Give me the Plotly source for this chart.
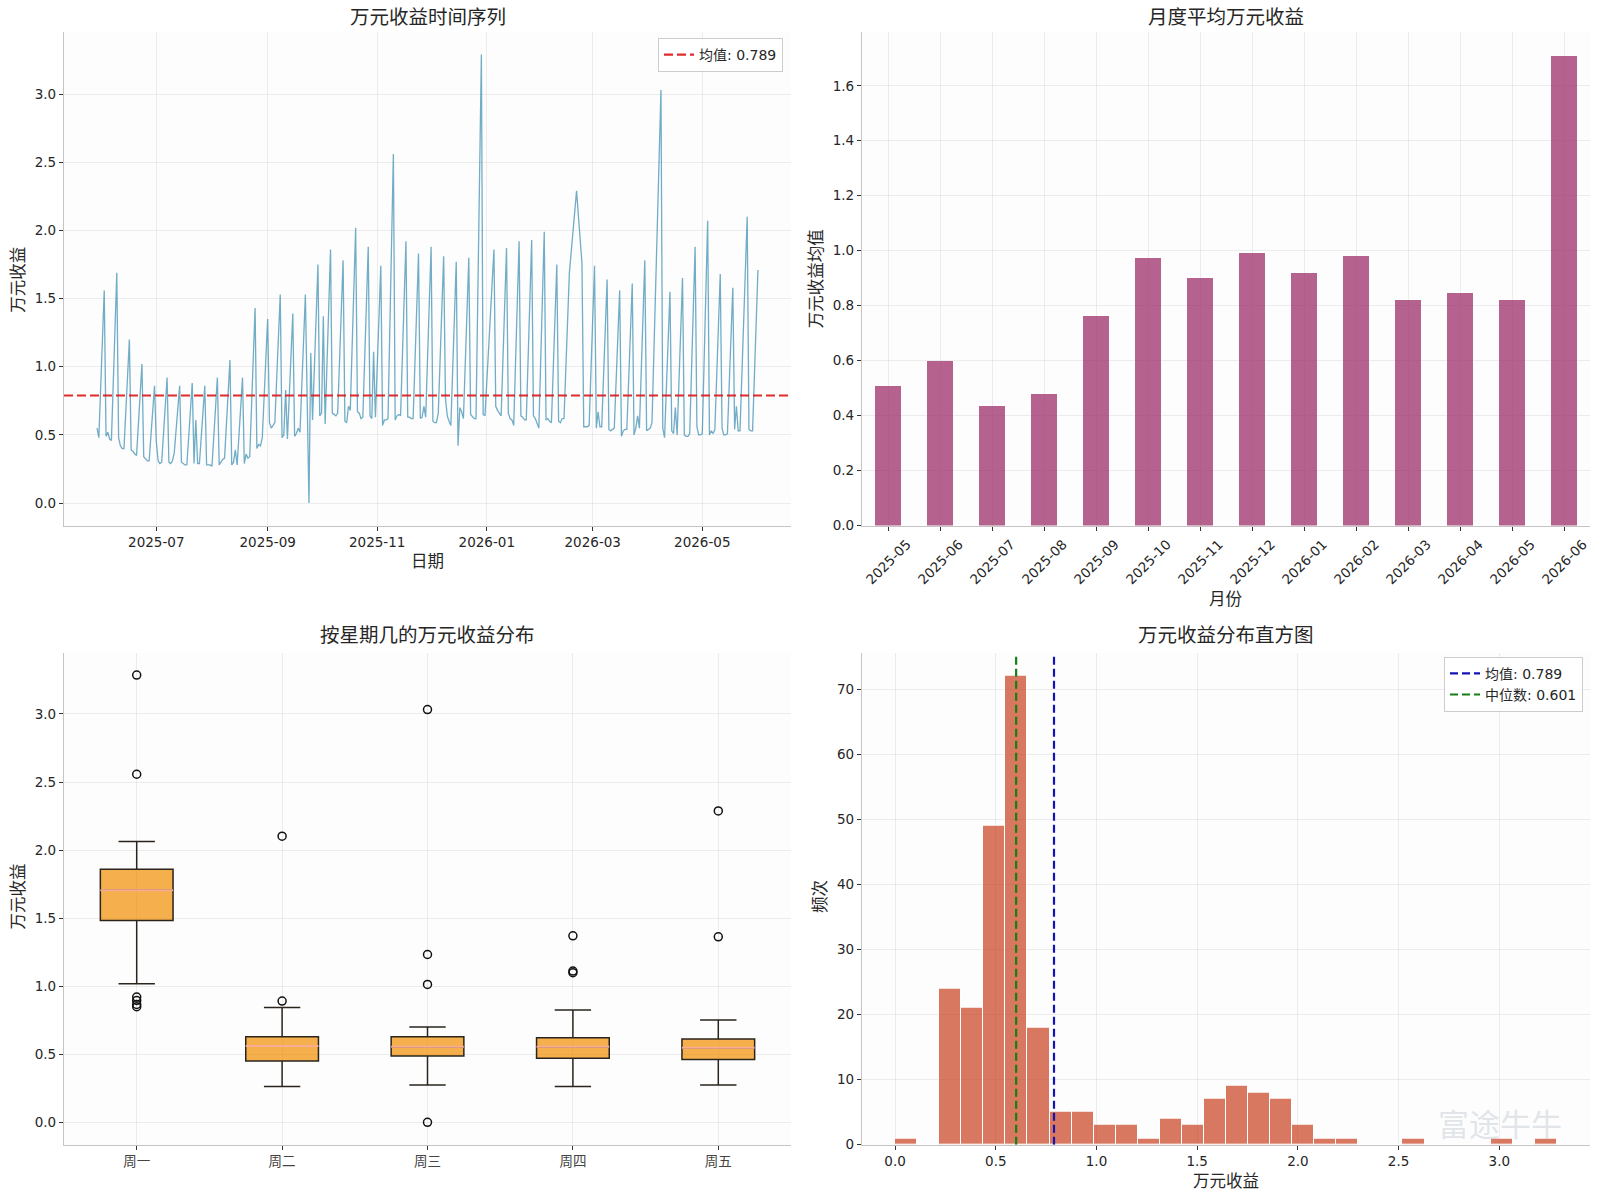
import pandas as pd
import plotly.graph_objects as go

# ---------------- data ----------------
# daily 万元收益, one row per week (Mon..Fri), first week starts 2025-05-26; None = no data
first_monday = "2025-05-26"
weekly_values = [
    [None, None, None, 0.55, 0.48],
    [1.56, 0.49, 0.52, 0.47, 0.46],
    [1.69, 0.48, 0.42, 0.40, 0.40],
    [1.20, 0.39, 0.38, 0.36, 0.35],
    [1.02, 0.34, 0.32, 0.31, 0.31],
    [0.86, 0.45, 0.31, 0.29, 0.30],
    [0.92, 0.30, 0.29, 0.31, 0.37],
    [0.86, 0.30, 0.29, 0.28, 0.28],
    [0.88, 0.29, 0.61, 0.29, 0.29],
    [0.86, 0.28, 0.28, 0.28, 0.27],
    [0.92, 0.28, 0.30, 0.32, 0.33],
    [1.05, 0.28, 0.30, 0.39, 0.28],
    [0.92, 0.29, 0.36, 0.33, 0.34],
    [1.43, 0.40, 0.43, 0.42, 0.48],
    [1.35, 0.59, 0.55, 0.57, 0.59],
    [1.53, 0.48, 0.50, 0.83, 0.47],
    [1.39, 0.49, 0.51, 0.55, 0.52],
    [1.53, 0.72, 0.00, 1.10, 0.61],
    [1.75, 0.64, 0.66, 1.37, 0.58],
    [1.86, 0.66, 0.65, 0.64, 0.66],
    [1.78, 0.60, 0.59, 0.71, 0.68],
    [2.02, 0.67, 0.66, 0.62, 0.63],
    [1.88, 0.64, 0.62, 1.11, 0.63],
    [1.74, 0.57, 0.61, 0.61, 0.62],
    [2.56, 0.61, 0.64, 0.65, 0.64],
    [1.92, 0.63, 0.63, 0.62, 0.62],
    [1.83, 0.62, 0.63, 0.71, 0.63],
    [1.88, 0.60, 0.59, 0.59, 0.66],
    [1.81, 0.77, 0.64, 0.60, 0.57],
    [1.77, 0.42, 0.70, 0.67, 0.62],
    [1.80, 0.65, 0.63, 0.62, 0.62],
    [3.29, 0.65, 0.64, None, None],
    [1.86, 0.71, 0.68, 0.66, 0.64],
    [1.87, 0.66, 0.62, 0.61, 0.57],
    [1.92, 0.64, 0.63, 0.61, 0.61],
    [1.93, 0.64, 0.62, 0.59, 0.55],
    [1.99, 0.61, 0.62, 0.60, 0.59],
    [1.75, 0.60, 0.59, 0.62, 0.62],
    [1.69, None, None, None, 2.29],
    [1.76, 0.56, 0.56, 0.56, 0.57],
    [1.74, 0.55, 0.67, 0.56, 0.56],
    [1.64, 0.54, 0.53, 0.54, 0.55],
    [1.56, 0.49, 0.53, 0.54, 0.54],
    [1.61, 0.50, 0.55, 0.64, 0.55],
    [1.78, 0.53, 0.54, 0.55, 0.59],
    [None, None, 3.03, 0.55, 0.48],
    [1.55, 0.53, 0.51, 0.70, 0.50],
    [1.65, 0.50, 0.49, 0.49, 0.51],
    [1.88, 0.56, 0.50, 0.50, 0.51],
    [2.07, 0.50, 0.53, 0.51, 0.54],
    [1.68, 0.55, 0.50, 0.50, 0.51],
    [1.58, 0.54, 0.71, 0.53, 0.53],
    [None, 2.10, 0.54, 0.53, 0.53],
    [1.71],
]
mean_value = 0.789
median_value = 0.601

# monthly averages
months = ["2025-05", "2025-06", "2025-07", "2025-08", "2025-09", "2025-10", "2025-11",
          "2025-12", "2026-01", "2026-02", "2026-03", "2026-04", "2026-05", "2026-06"]
month_avg = [0.509, 0.600, 0.434, 0.478, 0.763, 0.972, 0.900,
             0.993, 0.917, 0.979, 0.819, 0.845, 0.819, 1.710]

# weekday box statistics
weekdays = ["周一", "周二", "周三", "周四", "周五"]
box_q1 = [1.483, 0.450, 0.487, 0.470, 0.462]
box_median = [1.705, 0.560, 0.555, 0.555, 0.548]
box_q3 = [1.860, 0.629, 0.629, 0.621, 0.612]
box_low = [1.018, 0.264, 0.274, 0.264, 0.274]
box_high = [2.063, 0.844, 0.700, 0.825, 0.751]
box_outliers = [
    [3.286, 2.557, 0.920, 0.895, 0.866, 0.849],
    [2.102, 0.891],
    [3.032, 1.233, 1.013, 0.0],
    [1.370, 1.111, 1.099],
    [2.288, 1.363],
]

# histogram (30 bins between min and max)
hist_min = 0.0
hist_max = 3.286
hist_counts = [1, 0, 24, 21, 49, 72, 18, 5, 5, 3, 3, 1, 4, 3, 7, 9, 8, 7, 3, 1,
               1, 0, 0, 1, 0, 0, 0, 1, 0, 1]

# ---------------- build ----------------
start = pd.Timestamp(first_monday)
dates, values = [], []
for w, row in enumerate(weekly_values):
    for d, v in enumerate(row):
        if v is not None:
            dates.append(start + pd.Timedelta(days=7 * w + d))
            values.append(v)

FONT = "DejaVu Sans, Noto Sans CJK SC, sans-serif"
W, H = 1600, 1199
VS = 0.9923  # vertical correction measured against the rendered output
TXT = "#262626"
GRID = "rgba(176,176,176,0.22)"

fig = go.Figure()

# ---- top-left time series
span = dates[-1] - dates[0]
xr0 = dates[0] - span * 0.05
xr1 = dates[-1] + span * 0.05
vmin, vmax = min(values), max(values)
ypad = (vmax - vmin) * 0.05
fig.add_trace(go.Scatter(x=dates, y=values, mode="lines",
                         line=dict(color="rgba(46,134,171,0.68)", width=1.3),
                         xaxis="x", yaxis="y", showlegend=False))
fig.add_trace(go.Scatter(x=[xr0, xr1], y=[mean_value, mean_value], mode="lines",
                         line=dict(color="rgba(220,20,20,0.9)", width=2.2, dash="9px,4px"),
                         name=f"均值: {mean_value:.3f}", xaxis="x", yaxis="y", legend="legend"))

# ---- top-right monthly bars
fig.add_trace(go.Bar(x=list(range(len(months))), y=month_avg, width=0.5,
                     marker=dict(color="rgba(162,59,114,0.8)", line=dict(width=0)),
                     xaxis="x2", yaxis="y2", showlegend=False))

# ---- bottom-left boxes
for i, wd in enumerate(weekdays):
    pos = i + 1
    fig.add_trace(go.Box(x=[pos], q1=[box_q1[i]], median=[box_median[i]], q3=[box_q3[i]],
                         lowerfence=[box_low[i]], upperfence=[box_high[i]],
                         width=0.5, whiskerwidth=0.5, boxpoints=False,
                         fillcolor="rgba(241,143,1,0.7)",
                         line=dict(color="#2a241c", width=1.5),
                         xaxis="x3", yaxis="y3", showlegend=False, name=wd))
    fig.add_trace(go.Scatter(x=[pos - 0.25, pos + 0.25], y=[box_median[i]] * 2, mode="lines",
                             line=dict(color="#f8ad92", width=2),
                             xaxis="x3", yaxis="y3", showlegend=False))
    fig.add_trace(go.Scatter(x=[pos] * len(box_outliers[i]), y=box_outliers[i], mode="markers",
                             marker=dict(symbol="circle-open", size=8, color="#111111",
                                         line=dict(width=1.5)),
                             xaxis="x3", yaxis="y3", showlegend=False))

# ---- bottom-right histogram
nb = len(hist_counts)
bw = (hist_max - hist_min) / nb
centers = [hist_min + bw * (i + 0.5) for i in range(nb)]
fig.add_trace(go.Bar(x=centers, y=hist_counts, width=bw,
                     marker=dict(color="rgba(199,62,29,0.7)", line=dict(color="white", width=1)),
                     xaxis="x4", yaxis="y4", showlegend=False))
hy = max(hist_counts) * 1.05
fig.add_trace(go.Scatter(x=[mean_value, mean_value], y=[0, hy], mode="lines",
                         line=dict(color="#1414b4", width=2.2, dash="8px,4px"),
                         name=f"均值: {mean_value:.3f}", xaxis="x4", yaxis="y4", legend="legend2"))
fig.add_trace(go.Scatter(x=[median_value, median_value], y=[0, hy], mode="lines",
                         line=dict(color="#128012", width=2.2, dash="8px,4px"),
                         name=f"中位数: {median_value:.3f}", xaxis="x4", yaxis="y4", legend="legend2"))

# ---------------- layout ----------------
def px_x(p):
    return p / W

def px_y(p):
    return 1 - (p / VS) / H

colL = [px_x(64), px_x(791)]
colR = [px_x(862), px_x(1590)]
rowT = [px_y(525), px_y(32)]
rowB = [px_y(1143.5), px_y(652)]

axis_common = dict(showline=True, linecolor="#c4c4c4", linewidth=1.3, ticks="outside",
                   ticklen=4, tickwidth=1, tickcolor="#333333", showgrid=True,
                   gridcolor=GRID, gridwidth=1, zeroline=False,
                   tickfont=dict(size=13.5, color=TXT, family=FONT), mirror=False,
                   layer="above traces")

hpad = (hist_max - hist_min) * 0.05
fig.update_layout(
    width=W, height=H, autosize=False,
    margin=dict(l=0, r=0, t=0, b=0),
    paper_bgcolor="white", plot_bgcolor="#fdfdfd",
    font=dict(family=FONT, color=TXT),
    bargap=0,
    xaxis=dict(axis_common, domain=colL, anchor="y", type="date",
               range=[xr0, xr1], tick0="2025-07-01", dtick="M2", tickformat="%Y-%m"),
    yaxis=dict(axis_common, domain=rowT, anchor="x", range=[vmin - ypad, vmax + ypad],
               tickvals=[0, 0.5, 1.0, 1.5, 2.0, 2.5, 3.0], tickformat=".1f"),
    xaxis2=dict(axis_common, domain=colR, anchor="y2", range=[-0.5, len(months) - 0.5],
                tickvals=list(range(len(months))), showticklabels=False),
    yaxis2=dict(axis_common, domain=rowT, anchor="x2", range=[0, max(month_avg) * 1.05],
                tickvals=[0, 0.2, 0.4, 0.6, 0.8, 1.0, 1.2, 1.4, 1.6], tickformat=".1f"),
    xaxis3=dict(axis_common, domain=colL, anchor="y3", range=[0.5, 5.5],
                tickvals=[1, 2, 3, 4, 5], ticktext=weekdays,
                tickfont=dict(size=13.5, color="#444444", family=FONT)),
    yaxis3=dict(axis_common, domain=rowB, anchor="x3", range=[-0.1643, 3.4503],
                tickvals=[0, 0.5, 1.0, 1.5, 2.0, 2.5, 3.0], tickformat=".1f"),
    xaxis4=dict(axis_common, domain=colR, anchor="y4", range=[hist_min - hpad, hist_max + hpad],
                tickvals=[0, 0.5, 1.0, 1.5, 2.0, 2.5, 3.0], tickformat=".1f"),
    yaxis4=dict(axis_common, domain=rowB, anchor="x4", range=[0, hy],
                tickvals=[0, 10, 20, 30, 40, 50, 60, 70]),
    legend=dict(x=px_x(783), y=px_y(38), xanchor="right", yanchor="top",
                bgcolor="rgba(255,255,255,0.85)", bordercolor="#cccccc", borderwidth=1,
                font=dict(size=14, family=FONT, color=TXT)),
    legend2=dict(x=px_x(1583), y=px_y(656), xanchor="right", yanchor="top",
                 bgcolor="rgba(255,255,255,0.85)", bordercolor="#cccccc", borderwidth=1,
                 font=dict(size=14, family=FONT, color=TXT)),
)

ann = []
def text(x, y, s, size, angle=0, color=TXT, xanchor="center", yanchor="middle", xref="paper"):
    ann.append(dict(x=x, y=y, xref=xref, yref="paper", text=s, showarrow=False,
                    textangle=angle, xanchor=xanchor, yanchor=yanchor,
                    font=dict(size=size, family=FONT, color=color)))

# titles
text(px_x(427.5), px_y(17.5), "万元收益时间序列", 19.5)
text(px_x(1226), px_y(17.5), "月度平均万元收益", 19.5)
text(px_x(427.5), px_y(635), "按星期几的万元收益分布", 19.5)
text(px_x(1226), px_y(635), "万元收益分布直方图", 19.5)
# axis titles
text(px_x(427.5), px_y(561), "日期", 16.5)
text(px_x(18.5), px_y(280), "万元收益", 16.5, angle=-90)
text(px_x(1226), px_y(599), "月份", 16.5)
text(px_x(816), px_y(279), "万元收益均值", 16.5, angle=-90)
text(px_x(18.5), px_y(896), "万元收益", 16.5, angle=-90)
text(px_x(821), px_y(896), "频次", 16.5, angle=-90)
text(px_x(1226), px_y(1180), "万元收益", 16.5)
# rotated month labels
for i, m in enumerate(months):
    ann.append(dict(x=i, y=px_y(533), xref="x2", yref="paper", text=m, showarrow=False,
                    textangle=-45, xanchor="center", yanchor="top",
                    font=dict(size=13.5, family=FONT, color=TXT)))
# watermark (kept clear of the tick labels)
text(px_x(1500), px_y(1124), "富途牛牛", 31, color="rgba(190,200,210,0.45)")

fig.update_layout(annotations=ann)

fig.write_html("out.html")
